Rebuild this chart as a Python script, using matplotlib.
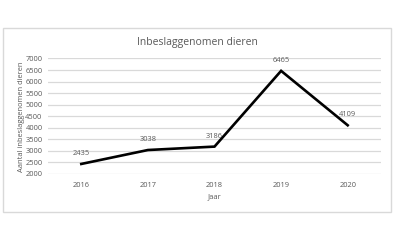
import matplotlib.pyplot as plt
from matplotlib.patches import Rectangle

years = ['2016', '2017', '2018', '2019', '2020']
counts = [2435, 3038, 3186, 6465, 4109]
yticks = [2000, 2500, 3000, 3500, 4000, 4500, 5000, 5500, 6000, 6500, 7000]

plt.rcParams['font.family'] = ['Open Sans', 'DejaVu Sans']
grey = '#595959'

fig = plt.figure(figsize=(4, 2.4), dpi=100)
# chart frame
fig.patches.append(Rectangle((3 / 400, 1 - 212 / 240), 388 / 400, 184 / 240,
                             transform=fig.transFigure, fill=False,
                             edgecolor='#d9d9d9', linewidth=1))

ax = fig.add_axes([48 / 400, 1 - 174 / 240, 333 / 400, 115.5 / 240])
x = range(len(years))
ax.plot(x, counts, color='black', linewidth=1.9, solid_joinstyle='miter')
for xi, v in zip(x, counts):
    ax.annotate(str(v), (xi, v), xytext=(0, 5), textcoords='offset points',
                ha='center', va='bottom', fontsize=5.4, color=grey)

ax.set_xlim(-0.5, len(years) - 0.5)
ax.set_ylim(2000, 7000)
ax.set_yticks(yticks)
ax.set_xticks(list(x))
ax.set_xticklabels(years)
ax.grid(axis='y', color='#d9d9d9', linewidth=0.9)
ax.set_axisbelow(True)
for s in ax.spines.values():
    s.set_visible(False)
ax.tick_params(length=0, labelsize=5.4, labelcolor=grey, pad=4)
ax.tick_params(axis='x', pad=6)

fig.text(197 / 400, 1 - 42 / 240, 'Inbeslaggenomen dieren', fontsize=7.5,
         color=grey, ha='center', va='center')
ax.set_xlabel('Jaar', fontsize=5.4, color=grey, labelpad=3)
ax.set_ylabel('Aantal inbeslaggenomen dieren', fontsize=5.4, color=grey)
ax.yaxis.set_label_coords((25 - 48) / 333, 0.5)

fig.savefig('out.png', dpi=100, facecolor='white')
